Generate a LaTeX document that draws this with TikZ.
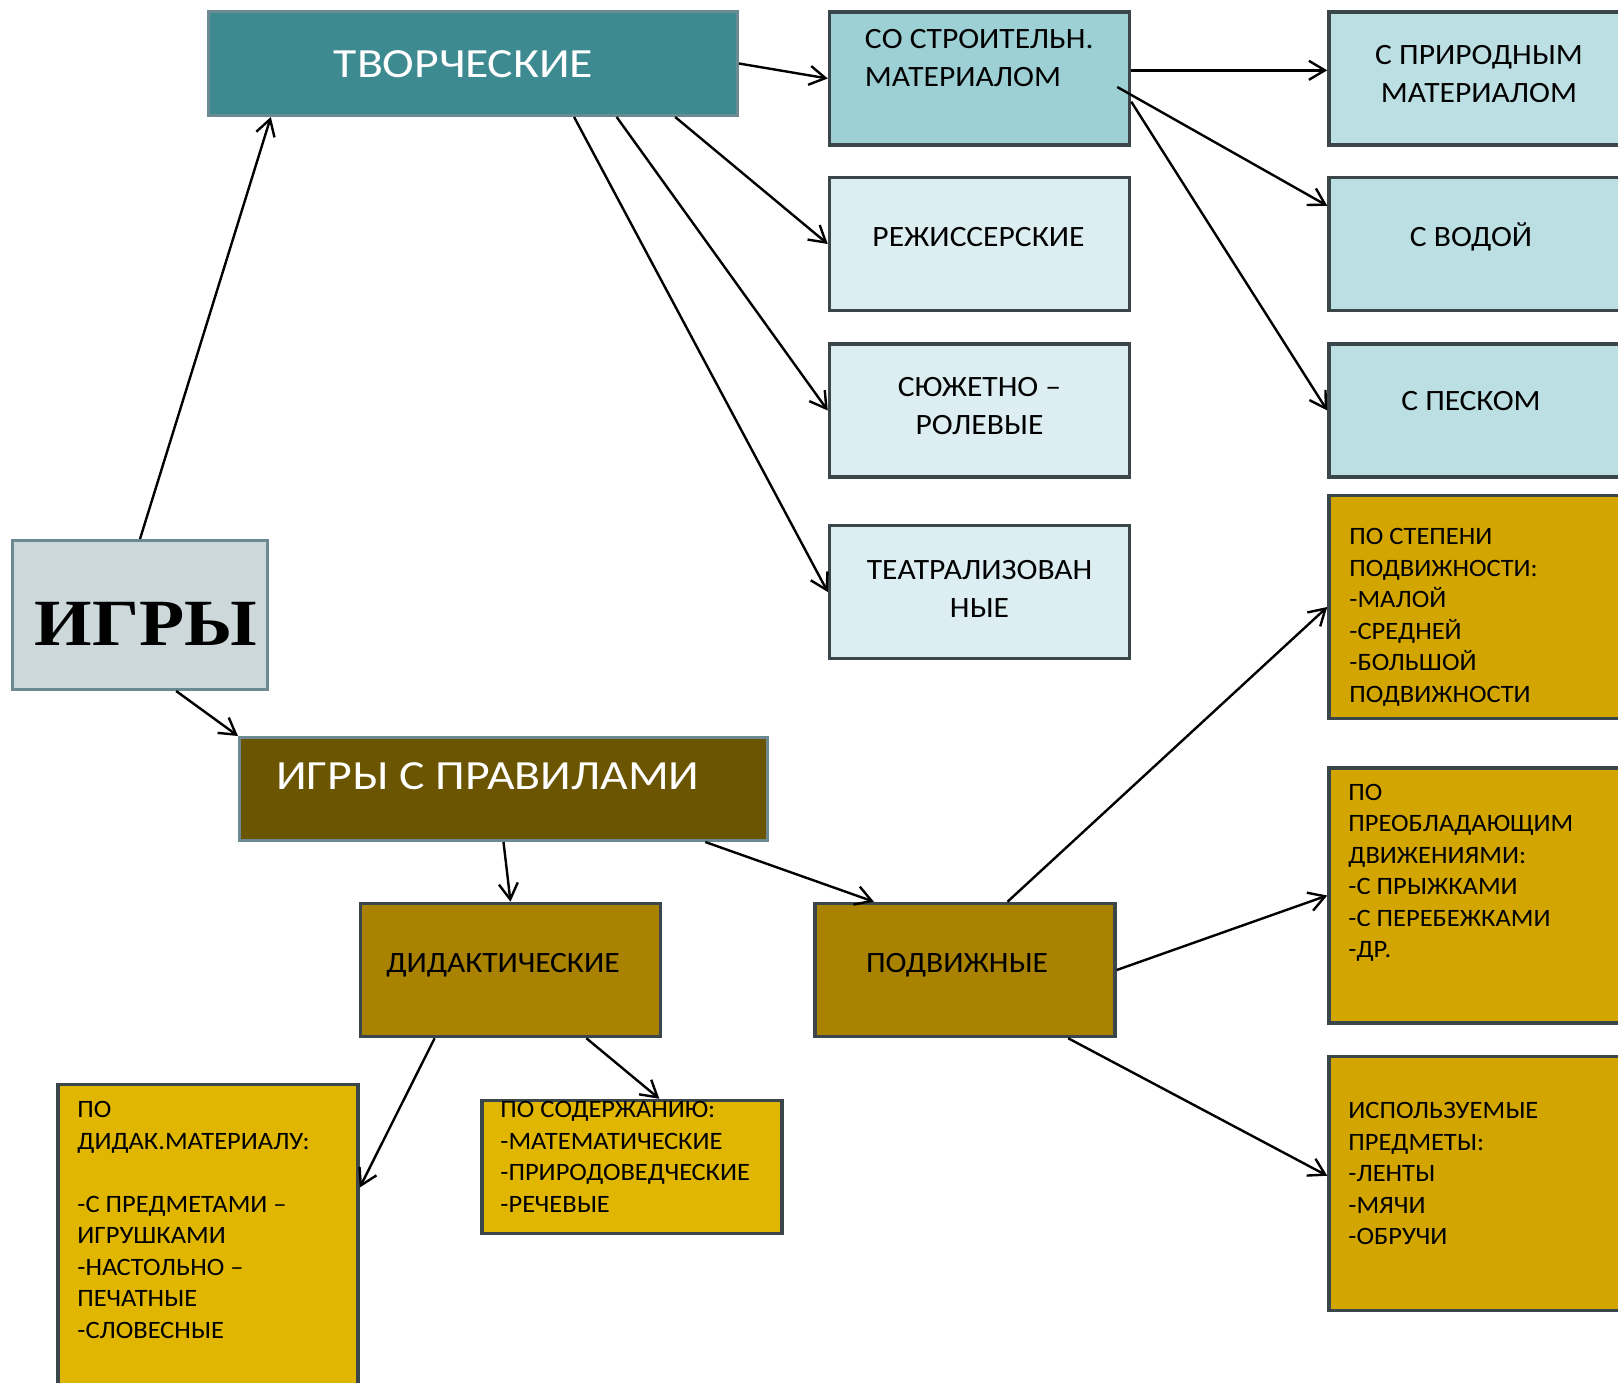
\documentclass[tikz,border=0pt]{standalone}
\usepackage{fontspec}
\setmainfont{Carlito}
\newfontfamily\bigfont[FakeStretch=1.15]{Carlito}
\newfontfamily\midfont[FakeStretch=1.07]{Carlito}
\newfontfamily\smallfont[FakeStretch=1.06]{Carlito}
\newfontfamily\timesfont[FakeStretch=1.12]{Liberation Serif}
\usetikzlibrary{positioning,calc,arrows.meta}
\definecolor{tealbox}{HTML}{3E8A91}
\definecolor{greybox}{HTML}{CDD8DB}
\definecolor{olivebox}{HTML}{6C5500}
\definecolor{ochrebox}{HTML}{A88200}
\definecolor{yellowbox}{HTML}{E0B600}
\definecolor{goldbox}{HTML}{D3A500}
\definecolor{aquabox}{HTML}{9CD0D5}
\definecolor{palebox}{HTML}{DCEEF1}
\definecolor{skybox}{HTML}{BCDFE3}
\definecolor{darkline}{HTML}{3A4649}
\definecolor{greyline}{HTML}{6B8A92}

\begin{document}
\begin{tikzpicture}[x=1pt, y=-1pt, line width=2.4pt, >={Straight Barb[length=16pt,width=19pt]},
  box/.style = {draw=darkline, line width=3.5pt, minimum width=300pt, minimum height=133pt, inner sep=0pt},
  head/.style = {box, draw=greyline, line width=3pt},
  big/.style = {font=\bigfont\fontsize{41.5}{50}\selectfont, text=white, inner sep=0pt},
  mid/.style = {font=\midfont\fontsize{29.5}{38}\selectfont, align=center, inner sep=0pt},
  small/.style = {font=\smallfont\fontsize{25}{31.5}\selectfont, align=left, inner sep=0pt, anchor=base west}]
    \clip (0,0) rectangle (1618,1383);
    \node[head, fill=tealbox, minimum width=529pt, minimum height=104pt] (tvor) at (473,63.5) {};
    \node[head, fill=greybox, minimum width=255pt, minimum height=149pt] (igry) at (140,615) {};
    \node[head, fill=olivebox, minimum width=528pt, minimum height=103pt] (prav) at (503.5,789) {};
    \node[box, fill=ochrebox] (did) at (510.5,970) {};
    \node[box, fill=ochrebox] (podv) at (965,970) {};
    \node[box, fill=yellowbox, minimum height=314pt] (pdid) at (208,1241.5) {};
    \node[box, fill=yellowbox] (psod) at (632,1167) {};
    \node[box, fill=aquabox] (stroi) at (979.5,78.5) {};
    \node[box, fill=palebox, below=29pt of stroi] (rezh) {};
    \node[box, fill=palebox, below=30pt of rezh] (syuzh) {};
    \node[box, fill=palebox, below=45pt of syuzh] (teatr) {};
    \node[box, fill=skybox, right=196pt of stroi] (prir) {};
    \node[box, fill=skybox, below=29pt of prir] (voda) {};
    \node[box, fill=skybox, below=30pt of voda] (pesok) {};
    \node[box, fill=goldbox, minimum height=223pt, below=15pt of pesok] (pstep) {};
    \node[box, fill=goldbox, minimum height=255pt, below=46pt of pstep] (ppreob) {};
    \node[box, fill=goldbox, minimum height=254pt, below=30pt of ppreob] (ispol) {};
    \node[big, anchor=base] (tvor-t) at ($(tvor.north)+(-9.5,67.3)$) {ТВОРЧЕСКИЕ};
    \node[anchor=base, inner sep=0pt, font=\timesfont\bfseries\fontsize{66}{70}\selectfont] (igry-t) at ($(igry.north)+(6,106.7)$) {ИГРЫ};
    \node[big, anchor=base west] (prav-t) at ($(prav.north west)+(37,53.3)$) {ИГРЫ С ПРАВИЛАМИ};
    \node[mid, anchor=base] (did-t) at ($(did.north)+(-7.5,70.5)$) {ДИДАКТИЧЕСКИЕ};
    \node[mid, anchor=base] (podv-t) at ($(podv.north)+(-8,70.5)$) {ПОДВИЖНЫЕ};
    \node[mid, align=left, anchor=base west] (stroi-t) at ($(stroi.north west)+(36,76.7)$) {СО СТРОИТЕЛЬН.\\МАТЕРИАЛОМ};
    \node[mid, anchor=base] (rezh-t) at ($(rezh.north)+(-1,70.7)$) {РЕЖИССЕРСКИЕ};
    \node[mid, anchor=base] (syuzh-t) at ($(syuzh.north)+(0,92.5)$) {СЮЖЕТНО –\\РОЛЕВЫЕ};
    \node[mid, anchor=base] (teatr-t) at ($(teatr.north)+(0,93.5)$) {ТЕАТРАЛИЗОВАН\\НЫЕ};
    \node[mid, anchor=base] (prir-t) at ($(prir.north)+(0,92.5)$) {С ПРИРОДНЫМ\\МАТЕРИАЛОМ};
    \node[mid, anchor=base] (voda-t) at ($(voda.north)+(-8,70.5)$) {С ВОДОЙ};
    \node[mid, anchor=base] (pesok-t) at ($(pesok.north)+(-8,68.5)$) {С ПЕСКОМ};
    \node[small] (pstep-t) at ($(pstep.north west)+(21,208.5)$) {ПО СТЕПЕНИ\\ПОДВИЖНОСТИ:\\-МАЛОЙ\\-СРЕДНЕЙ\\-БОЛЬШОЙ\\ПОДВИЖНОСТИ};
    \node[small] (ppreob-t) at ($(ppreob.north west)+(20,191.5)$) {ПО\\ПРЕОБЛАДАЮЩИМ\\ДВИЖЕНИЯМИ:\\-С ПРЫЖКАМИ\\-С ПЕРЕБЕЖКАМИ\\-ДР.};
    \node[small] (ispol-t) at ($(ispol.north west)+(20,190)$) {ИСПОЛЬЗУЕМЫЕ\\ПРЕДМЕТЫ:\\-ЛЕНТЫ\\-МЯЧИ\\-ОБРУЧИ};
    \node[small] (pdid-t) at ($(pdid.north west)+(20,255.5)$) {ПО\\ДИДАК.МАТЕРИАЛУ:\\[31.5pt]-С ПРЕДМЕТАМИ –\\ИГРУШКАМИ\\-НАСТОЛЬНО –\\ПЕЧАТНЫЕ\\-СЛОВЕСНЫЕ};
    \node[small] (psod-t) at ($(psod.north west)+(19,113.5)$) {ПО СОДЕРЖАНИЮ:\\-МАТЕМАТИЧЕСКИЕ\\-ПРИРОДОВЕДЧЕСКИЕ\\-РЕЧЕВЫЕ};
    \coordinate (stroi-in) at ($(stroi.east)+(-14,8.5)$);
    \draw[->] (igry.north) -- ($(tvor.south west)!.12!(tvor.south east)$);
    \draw[->] ($(igry.south west)!.64!(igry.south east)$) -- (prav.north west);
    \draw[->] (tvor.east) -- (stroi.west);
    \draw[->] ($(tvor.south west)!.88!(tvor.south east)$) -- (rezh.west);
    \draw[->] ($(tvor.south west)!.77!(tvor.south east)$) -- (syuzh.west);
    \draw[->] ($(tvor.south west)!.69!(tvor.south east)$) -- (teatr.west);
    \draw[->] ($(stroi.north east)!.44!(stroi.south east)$) -- ($(prir.north west)!.44!(prir.south west)$);
    \draw[->] (stroi-in) -- ($(voda.north west)!.22!(voda.south west)$);
    \draw[->] ($(stroi.north east)!.67!(stroi.south east)$) -- (pesok.west);
    \draw[->] (prav.south) -- (did.north);
    \draw[->] ($(prav.south west)!.88!(prav.south east)$) -- ($(podv.north west)!.2!(podv.north east)$);
    \draw[->] ($(did.south west)!.25!(did.south east)$) -- ($(pdid.north east)!.33!(pdid.south east)$);
    \draw[->] ($(did.south west)!.75!(did.south east)$) -- ($(psod.north west)!.59!(psod.north east)$);
    \draw[->] ($(podv.north west)!.64!(podv.north east)$) -- (pstep.west);
    \draw[->] (podv.east) -- (ppreob.west);
    \draw[->] ($(podv.south west)!.84!(podv.south east)$) -- ($(ispol.north west)!.47!(ispol.south west)$);
\end{tikzpicture}
\end{document}
